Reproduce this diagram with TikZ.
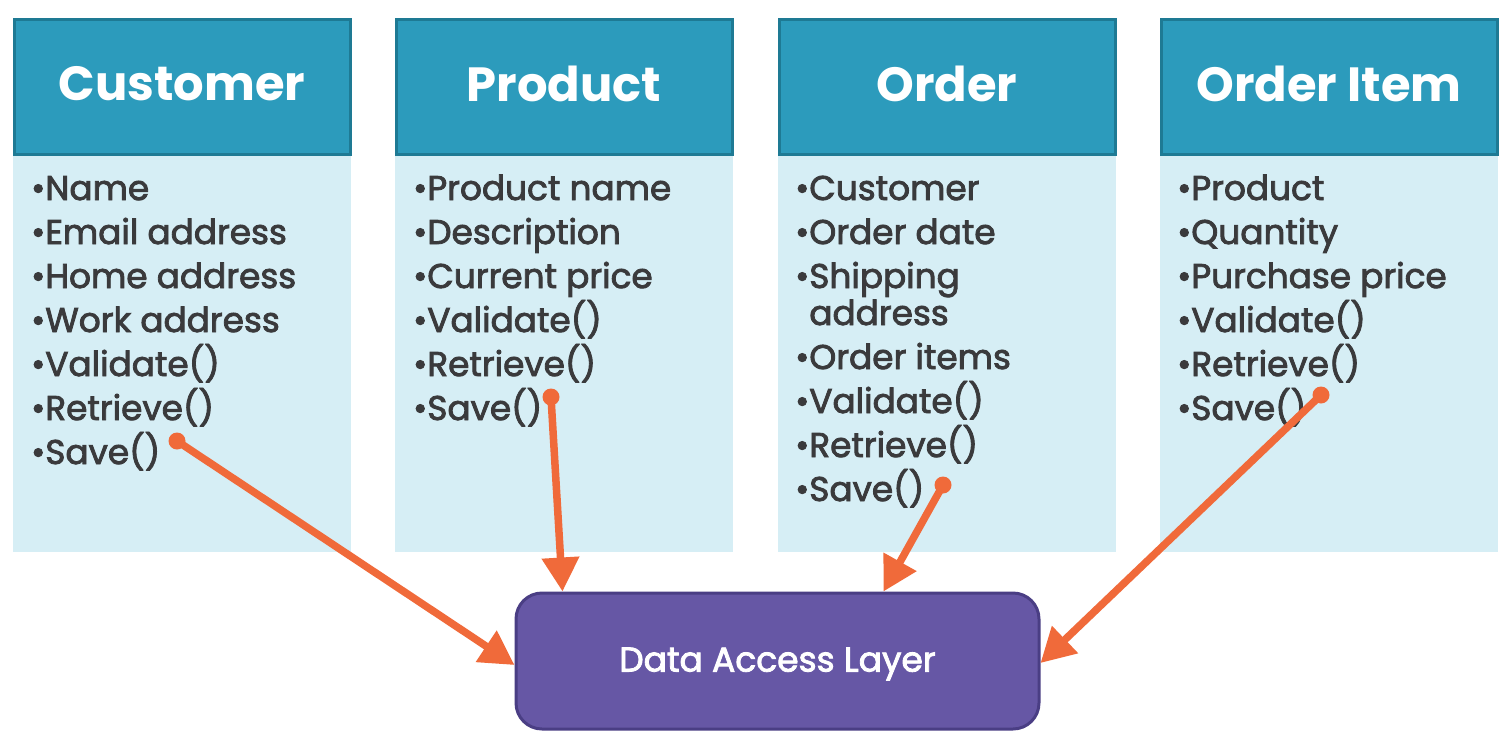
\documentclass[tikz,border=0pt]{standalone}
\usepackage{fontspec}
\setmainfont{Poppins}
\newfontfamily\medfont{Poppins}[FakeBold=2.4]
\usetikzlibrary{arrows.meta,positioning,calc}
\definecolor{headfill}{HTML}{2C9BBC}
\definecolor{headline}{HTML}{1E7A94}
\definecolor{bodyfill}{HTML}{D6EEF5}
\definecolor{txt}{HTML}{3A3A3C}
\definecolor{dalfill}{HTML}{6657A5}
\definecolor{dalline}{HTML}{4A3E84}
\definecolor{arr}{HTML}{F06A3A}
\tikzset{
  headbox/.style={draw=headline, line width=3pt, fill=headfill, minimum width=336pt, minimum height=135pt, inner sep=0pt},
  headtxt/.style={text=white, font=\fontsize{48}{56}\selectfont\bfseries},
  bodybox/.style={fill=bodyfill, minimum width=338pt, minimum height=396pt, inner sep=0pt},
  item/.style={anchor=base west, inner sep=0pt, text=txt, font=\medfont\fontsize{34.3}{36}\selectfont},
  dalbox/.style={draw=dalline, line width=3pt, fill=dalfill, rounded corners=26pt, minimum width=523pt, minimum height=136pt, inner sep=0pt},
  daltxt/.style={text=white, font=\medfont\fontsize{34.5}{40}\selectfont},
  conn/.style={draw=arr, line width=7.5pt, -{Triangle[length=34pt,width=36pt]}},
  dot/.style={fill=arr}
}
\begin{document}
\begin{tikzpicture}[x=1pt,y=-1pt]
\useasboundingbox (0,0) rectangle (1506,742);
\fill[white] (0,0) rectangle (1506,742);
% bodies
\node[bodybox] (b1) at (182,354) {};
\node[bodybox] (b2) at (564,354) {};
\node[bodybox] (b3) at (947,354) {};
\node[bodybox] (b4) at (1329,354) {};
% headers
\node[headbox] (h1) at (182,86.5) {};
\node[headbox] (h2) at (564,86.5) {};
\node[headbox] (h3) at (947,86.5) {};
\node[headbox] (h4) at (1329,86.5) {};
\node[headtxt] (t1) at (182,84) {Customer};
\node[headtxt] (t2) at (564,84) {Product};
\node[headtxt] (t3) at (947,84) {Order};
\node[headtxt] (t4) at (1329,84) {Order Item};
% lists
\foreach [count=\i] \t in {Name,Email address,Home address,Work address,Validate(),Retrieve(),Save()}
  \node[item] (cu\i) at (31,{200+44*(\i-1)}) {•\t};
\foreach [count=\i] \t in {Product name,Description,Current price,Validate(),Retrieve(),Save()}
  \node[item] (pr\i) at (413,{200+44*(\i-1)}) {•\t};
\foreach [count=\i] \t/\y in {Customer/200,Order date/244,Shipping/288,Order items/369,Validate()/413,Retrieve()/457,Save()/501}
  \node[item] (or\i) at (795,\y) {•\t};
\node[item] (oradd) at (795,325) {\phantom{•}address};
\foreach [count=\i] \t in {Product,Quantity,Purchase price,Validate(),Retrieve(),Save()}
  \node[item] (oi\i) at (1177,{200+44*(\i-1)}) {•\t};
% data access layer
\node[dalbox] (dal) at (777.5,661) {};
\node[daltxt] (dalt) at (777.5,664) {Data Access Layer};
% connector start points
\coordinate (s1) at (177,441);
\coordinate (s2) at (551,397);
\coordinate (s3) at (943,485);
\coordinate (s4) at (1321,395);
\foreach \s in {s1,s2,s3,s4} \fill[dot] (\s) circle (8.5pt);
\draw[conn] (s1) -- ([yshift=-4pt]dal.west);
\draw[conn] (s2) -- ([xshift=48pt]dal.north west);
\draw[conn] (s3) -- ([xshift=369pt]dal.north west);
\draw[conn] (s4) -- ([yshift=-2pt]dal.east);
\end{tikzpicture}
\end{document}
